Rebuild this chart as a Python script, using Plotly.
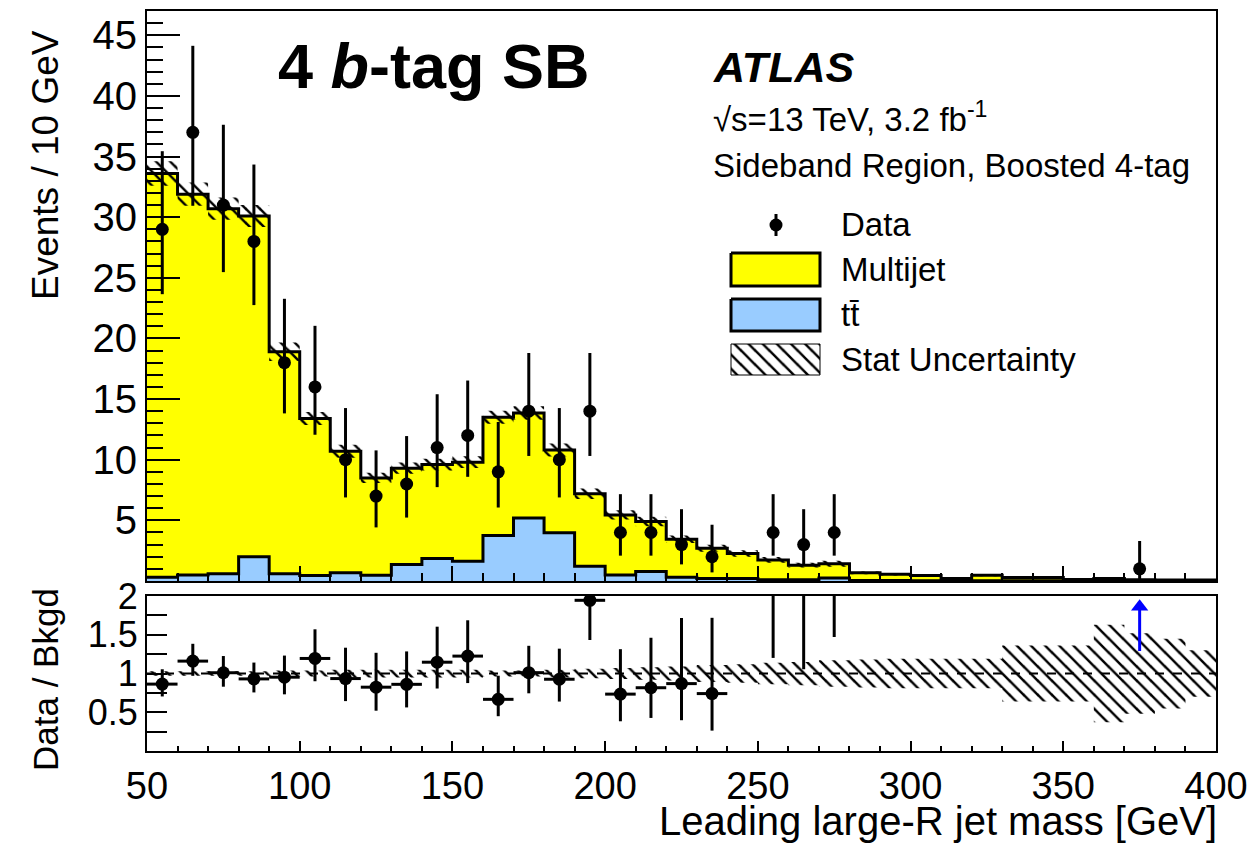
import numpy as np
import plotly.graph_objects as go

# ---------------- data ----------------
bin_edges = [50, 60, 70, 80, 90, 100, 110, 120, 130, 140, 150, 160, 170, 180, 190,
             200, 210, 220, 230, 240, 250, 260, 270, 280, 290, 300, 310, 320, 330,
             340, 350, 360, 370, 380, 390, 400]
bin_centers = [55, 65, 75, 85, 95, 105, 115, 125, 135, 145, 155, 165, 175, 185, 195,
               205, 215, 225, 235, 245, 255, 265, 275, 285, 295, 305, 315, 325, 335,
               345, 355, 365, 375, 385, 395]
multijet = [33.3, 31.4, 30.1, 28.1, 18.3, 12.95, 10.02, 8.02, 7.94, 7.75, 8.17, 9.75,
            8.65, 6.83, 5.98, 4.95, 4.12, 3.15, 2.5, 2.07, 1.64, 1.2, 1.17, 0.62, 0.51,
            0.42, 0.17, 0.45, 0.26, 0.26, 0.09, 0.12, 0.08, 0.06, 0.06]
ttbar = [0.3, 0.5, 0.6, 2.0, 0.6, 0.45, 0.68, 0.48, 1.36, 1.85, 1.63, 3.75, 5.2, 3.97,
         1.22, 0.5, 0.78, 0.3, 0.2, 0.2, 0.1, 0.1, 0.25, 0.05, 0.05, 0.03, 0.03, 0.03,
         0.03, 0.03, 0.03, 0.08, 0.02, 0.02, 0.02]
data = [29, 37, 31, 28, 18, 16, 10, 7, 8, 11, 12, 9, 14, 10, 14, 4, 4, 3, 2, 0, 4, 3, 4,
        0, 0, 0, 0, 0, 0, 0, 0, 0, 1, 0, 0]
data_err_up = [6.44, 7.13, 6.62, 6.34, 5.27, 5.04, 4.26, 3.77, 3.95, 4.40, 4.53, 4.11,
               4.80, 4.26, 4.80, 3.16, 3.16, 2.92, 2.64, 0, 3.16, 2.92, 3.16, 0, 0, 0,
               0, 0, 0, 0, 0, 0, 2.30, 0, 0]
data_err_dn = [5.35, 6.06, 5.53, 5.25, 4.18, 3.94, 3.11, 2.58, 2.77, 3.26, 3.41, 2.94,
               3.69, 3.11, 3.69, 1.91, 1.91, 1.63, 1.29, 0, 1.91, 1.63, 1.91, 0, 0, 0,
               0, 0, 0, 0, 0, 0, 0.83, 0, 0]
stat_rel = [0.03, 0.03, 0.03, 0.03, 0.04, 0.04, 0.05, 0.05, 0.05, 0.05, 0.05, 0.04, 0.04,
            0.05, 0.06, 0.07, 0.08, 0.09, 0.11, 0.12, 0.14, 0.15, 0.17, 0.18, 0.19, 0.19,
            0.19, 0.19, 0.36, 0.36, 0.36, 0.63, 0.52, 0.45, 0.30]

y_ticks_top = [5, 10, 15, 20, 25, 30, 35, 40, 45]
y_ticks_ratio = [0.5, 1, 1.5, 2]
x_ticks = [50, 100, 150, 200, 250, 300, 350, 400]

# ---------------- derived ----------------
mj = np.array(multijet)
tt = np.array(ttbar)
total = mj + tt
d = np.array(data, dtype=float)
eu = np.array(data_err_up)
ed = np.array(data_err_dn)
rel = np.array(stat_rel)
xc = np.array(bin_centers, dtype=float)


def step(v):
    v = list(v)
    return v + [v[-1]]


FONT = "Liberation Sans, Arial, Helvetica, sans-serif"
YELLOW = "#ffff00"
BLUE = "#99ccff"
HATCH = dict(shape="\\", fgcolor="black", fgopacity=1, size=10, solidity=0.25)

# plot-area pixel geometry
L, R, T, B = 147, 1216, 11, 751
W, H = R - L, B - T


def px(x):
    return (x - L) / W


def py(y):
    return (B - y) / H


fig = go.Figure()
NOLINE = dict(width=0, color="rgba(0,0,0,0)")

# ---- top panel ----
fig.add_trace(go.Scatter(x=bin_edges, y=step(total), mode="lines", line_shape="hv",
                         fill="tozeroy", fillcolor=YELLOW,
                         line=dict(color="black", width=3), xaxis="x", yaxis="y",
                         hoverinfo="skip"))
fig.add_trace(go.Scatter(x=bin_edges, y=step(tt), mode="lines", line_shape="hv",
                         fill="tozeroy", fillcolor=BLUE,
                         line=dict(color="black", width=3), xaxis="x", yaxis="y",
                         hoverinfo="skip"))
fig.add_trace(go.Scatter(x=bin_edges, y=step(total * (1 - rel)), mode="lines",
                         line_shape="hv", line=NOLINE,
                         xaxis="x", yaxis="y", hoverinfo="skip"))
fig.add_trace(go.Scatter(x=bin_edges, y=step(total * (1 + rel)), mode="lines",
                         line_shape="hv", line=NOLINE,
                         fill="tonexty", fillcolor="rgba(0,0,0,0)", fillpattern=HATCH,
                         xaxis="x", yaxis="y", hoverinfo="skip"))
m = d > 0
fig.add_trace(go.Scatter(x=xc[m], y=d[m], mode="markers",
                         marker=dict(color="black", size=13),
                         error_y=dict(type="data", array=eu[m], arrayminus=ed[m],
                                      color="black", thickness=3, width=0),
                         xaxis="x", yaxis="y"))

# ---- ratio panel ----
fig.add_trace(go.Scatter(x=bin_edges, y=step(1 - rel), mode="lines", line_shape="hv",
                         line=NOLINE, xaxis="x2", yaxis="y2", hoverinfo="skip"))
fig.add_trace(go.Scatter(x=bin_edges, y=step(1 + rel), mode="lines", line_shape="hv",
                         line=NOLINE, fill="tonexty", fillcolor="rgba(0,0,0,0)",
                         fillpattern=HATCH, xaxis="x2", yaxis="y2", hoverinfo="skip"))
fig.add_trace(go.Scatter(x=[bin_edges[0], bin_edges[-1]], y=[1, 1], mode="lines",
                         line=dict(color="black", width=2, dash="dash"),
                         xaxis="x2", yaxis="y2", hoverinfo="skip"))
ratio = d[m] / total[m]
r_up = eu[m] / total[m]
r_dn = ed[m] / total[m]
far = ratio > 4          # far off scale -> drawn as an arrow
fig.add_trace(go.Scatter(x=xc[m][~far], y=ratio[~far], mode="markers",
                         marker=dict(color="black", size=13),
                         error_y=dict(type="data", array=r_up[~far],
                                      arrayminus=r_dn[~far],
                                      color="black", thickness=3, width=0),
                         error_x=dict(type="constant", value=5, color="black",
                                      thickness=3, width=0),
                         xaxis="x2", yaxis="y2", cliponaxis=True))
for xi in xc[m][far]:
    fig.add_trace(go.Scatter(x=[xi, xi], y=[1.29, 1.84], mode="lines",
                             line=dict(color="blue", width=3),
                             xaxis="x2", yaxis="y2", hoverinfo="skip"))
    fig.add_trace(go.Scatter(x=[xi], y=[1.86], mode="markers",
                             marker=dict(symbol="triangle-up", size=15, color="blue",
                                         line=dict(width=0)),
                             xaxis="x2", yaxis="y2", hoverinfo="skip"))

annotations = []

# ---- hand-drawn legend on an overlay axis in pixel units ----
fig.add_trace(go.Scatter(x=[776], y=[225], mode="markers",
                         marker=dict(color="black", size=13),
                         error_y=dict(type="constant", value=11, color="black",
                                      thickness=3, width=0),
                         xaxis="x3", yaxis="y3"))
for (y0, y1, col) in [(253, 286, YELLOW), (299, 331, BLUE)]:
    fig.add_trace(go.Scatter(x=[731, 820, 820, 731, 731], y=[y0, y0, y1, y1, y0],
                             mode="lines", fill="toself", fillcolor=col,
                             line=dict(color="black", width=3),
                             xaxis="x3", yaxis="y3", hoverinfo="skip"))
fig.add_trace(go.Scatter(x=[731, 820, 820, 731, 731], y=[344, 344, 375, 375, 344],
                         mode="lines", fill="toself", fillcolor="rgba(0,0,0,0)",
                         fillpattern=HATCH, line=dict(color="black", width=1),
                         xaxis="x3", yaxis="y3", hoverinfo="skip"))

leg_font = dict(family=FONT, size=33, color="black")
for txt, yy in [("Data", 224), ("Multijet", 269), ("tt\u0304", 314),
                ("Stat Uncertainty", 359)]:
    annotations.append(dict(x=839, y=yy, xref="x3", yref="y3", text=txt,
                            showarrow=False, xanchor="left", yanchor="middle",
                            font=leg_font))

# ---- texts ----
annotations += [
    dict(x=px(276), y=py(66), xref="paper", yref="paper",
         text="<b>4 <i>b</i>-tag SB</b>", showarrow=False, xanchor="left",
         yanchor="middle", font=dict(family=FONT, size=63, color="black")),
    dict(x=px(711), y=py(67), xref="paper", yref="paper", text="<b><i>ATLAS</i></b>",
         showarrow=False, xanchor="left", yanchor="middle",
         font=dict(family=FONT, size=43, color="black")),
    dict(x=px(711), y=py(117), xref="paper", yref="paper",
         text="\u221as=13 TeV, 3.2 fb<sup>-1</sup>", showarrow=False, xanchor="left",
         yanchor="middle", font=dict(family=FONT, size=33, color="black")),
    dict(x=px(711), y=py(165), xref="paper", yref="paper",
         text="Sideband Region, Boosted 4-tag", showarrow=False, xanchor="left",
         yanchor="middle", font=dict(family=FONT, size=33, color="black")),
    dict(x=px(45), y=py(28), xref="paper", yref="paper", text="Events / 10 GeV",
         textangle=-90, showarrow=False, xanchor="center", yanchor="top",
         font=dict(family=FONT, size=37, color="black")),
    dict(x=px(45), y=py(680), xref="paper", yref="paper", text="Data / Bkgd",
         textangle=-90, showarrow=False, xanchor="center", yanchor="middle",
         font=dict(family=FONT, size=35, color="black")),
    dict(x=px(1219), y=py(821), xref="paper", yref="paper",
         text="Leading large-R jet mass [GeV]", showarrow=False, xanchor="right",
         yanchor="middle", font=dict(family=FONT, size=40, color="black")),
]

tickfont = dict(family=FONT, size=40, color="black")
rtickfont = dict(family=FONT, size=36, color="black")
xtickfont = dict(family=FONT, size=38, color="black")
top_dom = [py(581), 1.0]
rat_dom = [0.0, py(596)]

common = dict(showline=True, linecolor="black", linewidth=2, mirror=True,
              showgrid=False, zeroline=False, automargin=False)

fig.update_layout(
    template="none",
    width=1255, height=845,
    margin=dict(l=L, r=1255 - R, t=T, b=845 - B, autoexpand=False),
    paper_bgcolor="white", plot_bgcolor="rgba(0,0,0,0)",
    showlegend=False,
    annotations=annotations,
    xaxis=dict(domain=[0, 1], anchor="y", range=[50, 400], showticklabels=False,
               tickvals=x_ticks, ticks="inside", ticklen=15, tickwidth=2,
               tickcolor="black",
               minor=dict(dtick=10, tick0=50, ticks="inside", ticklen=8, tickwidth=2,
                          tickcolor="black", showgrid=False), **common),
    yaxis=dict(domain=top_dom, anchor="x", range=[0, 47], tickvals=y_ticks_top,
               ticks="inside", ticklen=33, tickwidth=2, tickcolor="black",
               minor=dict(dtick=1, tick0=0, ticks="inside", ticklen=16, tickwidth=2,
                          tickcolor="black", showgrid=False),
               tickfont=tickfont, **common),
    xaxis2=dict(domain=[0, 1], anchor="y2", range=[50, 400], tickvals=x_ticks,
                ticks="inside", ticklen=10, tickwidth=2, tickcolor="black",
                minor=dict(dtick=10, tick0=50, ticks="inside", ticklen=5, tickwidth=2,
                           tickcolor="black", showgrid=False),
                tickfont=xtickfont, **common),
    yaxis2=dict(domain=rat_dom, anchor="x2", range=[0, 2], tickvals=y_ticks_ratio,
                ticks="inside", ticklen=20, tickwidth=2, tickcolor="black",
                minor=dict(dtick=0.25, tick0=0, ticks="inside", ticklen=20,
                           tickwidth=2, tickcolor="black", showgrid=False),
                tickfont=rtickfont, **common),
    xaxis3=dict(domain=[0, 1], anchor="y3", range=[L, R], visible=False,
                automargin=False),
    yaxis3=dict(domain=[0, 1], anchor="x3", range=[B, T], visible=False,
                automargin=False),
)

fig.write_html("out.html")
